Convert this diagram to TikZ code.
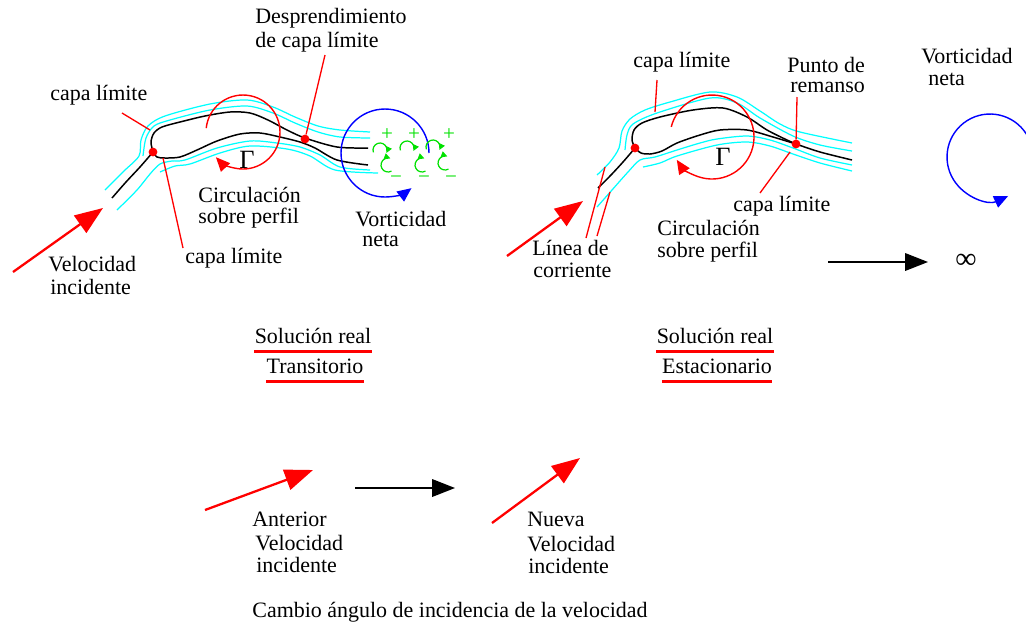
\documentclass[tikz,border=0pt]{standalone}
\usepackage{fontspec}
\setmainfont{Liberation Serif}
\usetikzlibrary{arrows.meta}
\definecolor{layercyan}{RGB}{0,255,255}
\definecolor{vortgreen}{RGB}{0,225,0}
\begin{document}
\begin{tikzpicture}[x=0.02cm,y=-0.02cm,
  txt/.style={inner sep=0pt,anchor=west,text height=8pt,text depth=1.5pt,font=\fontsize{12.5}{14}\selectfont},
  ctxt/.style={inner sep=0pt,text height=8pt,text depth=1.5pt,font=\fontsize{12.5}{14}\selectfont},
  body/.style={draw=black,line width=0.85pt},
  layer/.style={draw=layercyan,line width=0.7pt},
  lead/.style={draw=red,line width=0.75pt},
  dot/.style={circle,fill=red,inner sep=0pt,minimum size=5pt},
  vel/.style={draw=red,line width=1.3pt,-{Triangle[length=16pt,width=12pt]}},
  push/.style={draw=black,line width=0.85pt,-{Triangle[length=13pt,width=10pt]}},
  circred/.style={draw=red,line width=0.8pt,-{Triangle[length=8pt,width=7pt]}},
  circblue/.style={draw=blue,line width=0.8pt,-{Triangle[length=8pt,width=7pt]}},
  eddy/.style={draw=vortgreen,line width=0.7pt,-{Triangle[length=3.5pt,width=3.5pt]}},
  sign/.style={inner sep=0pt,text=vortgreen,font=\fontsize{12}{12}\selectfont},
  uline/.style={draw=red,line width=1.7pt},
  gam/.style={inner sep=0pt,font=\fontsize{15}{15}\selectfont}
]
\useasboundingbox (0,0) rectangle (1026,630);

% ================= transient flow (left) =================
% boundary-layer edges
\draw[layer] plot[smooth] coordinates {(105,190) (124,171) (139,156) (141,140) (148,126) (165,116) (210,104) (247,100) (273,107) (295,117) (318,126) (340,130) (370,132)};
\draw[layer] plot[smooth] coordinates {(143,156) (146,138) (154,126) (170,120) (210,110) (247,106) (273,113) (295,123) (318,132) (340,137) (370,138)};
\draw[layer] plot[smooth] coordinates {(117,210) (137,190) (150,174) (160,164) (172,161) (185,160) (217,148) (250,141) (277,143) (300,147) (320,155) (340,167) (370,170)};
\draw[layer] plot[smooth] coordinates {(160,172) (175,166) (190,164) (220,153) (250,146) (287,149) (310,156) (335,170) (378,173)};
% profile and stagnation streamline
\draw[body] plot[smooth] coordinates {(112,198) (126,182) (140,167) (153,152)};
\draw[body] plot[smooth] coordinates {(153,152) (151,142) (154,133) (162,127) (180,122) (205,116) (230,112) (250,113) (268,120) (287,130) (305,138) (337,147) (368,148)};
\draw[body] plot[smooth] coordinates {(153,152) (157,157) (165,158) (180,157) (197,150) (217,141) (240,134) (260,133) (280,137) (300,142) (315,148) (337,160) (368,165)};

% circulation around the profile
\coordinate (gcL) at (243,132);
\draw[circred] ([shift={(174:0.74cm)}]gcL) arc[start angle=174,end angle=-137,radius=0.74cm];
\node[gam] (gamL) at (247,160) {Γ};

% shed vorticity
\coordinate (vcL) at (385,153);
\draw[circblue] ([shift={(0:0.88cm)}]vcL) arc[start angle=0,end angle=307,radius=0.88cm];
\foreach \x/\y in {380/150,407/148,433/147}
  \draw[eddy] ([shift={(200:0.14cm)}]\x,\y) arc[start angle=200,end angle=-25,radius=0.14cm];
\foreach \x/\y in {388/165,422/165,445/163}
  \draw[eddy] ([shift={(-60:0.14cm)}]\x,\y) arc[start angle=-60,end angle=-290,radius=0.14cm];
\node[sign] (pa) at (387,135) {+};
\node[sign] (pb) at (414,135) {+};
\node[sign] (pc) at (449,135) {+};
\node[sign] (ma) at (396,180) {−};
\node[sign] (mb) at (424,180) {−};
\node[sign] (mc) at (451,180) {−};

% marked points and leaders
\node[dot] (stagL) at (153,152) {};
\node[dot] (sepL) at (305,139) {};
\coordinate (leadLa) at (122,113);
\coordinate (edgeLa) at (150,130);
\coordinate (leadLb) at (163,158);
\coordinate (endLb) at (183,248);
\coordinate (endSep) at (325,55);
\draw[lead] (leadLa) -- (edgeLa);
\draw[lead] (leadLb) -- (endLb);
\draw[lead] (sepL) -- (endSep);

% incoming velocity
\coordinate (vL0) at (13,272);
\coordinate (vL1) at (103,208);
\draw[vel] (vL0) -- (vL1);

% labels
\node[txt] (capaLa) at (50,95) {capa límite};
\node[txt] (despA) at (255,18) {Desprendimiento};
\node[txt] (despB) at (255,42) {de capa límite};
\node[txt] (circLa) at (198,197) {Circulación};
\node[txt] (circLb) at (198,218) {sobre perfil};
\node[txt] (vortLa) at (355,221) {Vorticidad};
\node[txt] (vortLb) at (362,241) {neta};
\node[txt] (velLa) at (48,266) {Velocidad};
\node[txt] (velLb) at (50,289) {incidente};
\node[txt] (capaLb) at (185,258) {capa límite};

% ================= steady flow (right) =================
\draw[layer] plot[smooth] coordinates {(597,175) (610,162) (619,148) (622,131) (630,119) (645,110) (670,102) (710,92) (737,97) (760,111) (780,124) (800,132) (852,143)};
\draw[layer] plot[smooth] coordinates {(625,150) (627,135) (633,124) (657,113) (710,98) (737,103) (760,118) (793,136) (820,145) (852,151)};
\draw[layer] plot[smooth] coordinates {(597,207) (612,190) (628,172) (640,160) (655,157) (677,150) (700,143) (717,139) (747,136) (770,140) (793,148) (820,158) (852,165)};
\draw[layer] plot[smooth] coordinates {(643,167) (660,163) (677,156) (717,145) (747,142) (770,146) (793,154) (820,163) (852,171)};
\draw[body] plot[smooth] coordinates {(598,188) (611,175) (623,162) (635,148)};
\draw[body] plot[smooth] coordinates {(635,148) (632,140) (634,130) (642,123) (660,117) (693,110) (723,108) (747,117) (767,130) (787,140) (796,144)};
\draw[body] plot[smooth] coordinates {(635,148) (641,153) (650,154) (662,151) (677,143) (700,135) (720,130) (747,130) (773,137) (796,144)};
\draw[body] plot[smooth] coordinates {(796,144) (820,152) (852,160)};

\coordinate (gcR) at (712,137);
\draw[circred] ([shift={(166:0.84cm)}]gcR) arc[start angle=166,end angle=-147,radius=0.84cm];
\node[gam] (gamR) at (723,157) {Γ};

\node[dot] (stagR) at (635,148) {};
\node[dot] (remR) at (796,144) {};
\coordinate (leadRa) at (657,80);
\coordinate (edgeRa) at (655,112);
\coordinate (leadRp) at (797,97);
\coordinate (leadRc) at (760,193);
\coordinate (edgeRc) at (790,152);
\coordinate (strA) at (605,167);
\coordinate (strAe) at (586,238);
\coordinate (strB) at (610,192);
\coordinate (strBe) at (597,236);
\draw[lead] (leadRa) -- (edgeRa);
\draw[lead] (leadRp) -- (remR);
\draw[lead] (leadRc) -- (edgeRc);
\draw[lead] (strA) -- (strAe);
\draw[lead] (strB) -- (strBe);

\coordinate (vR0) at (507,256);
\coordinate (vR1) at (583,201);
\draw[vel] (vR0) -- (vR1);

% vortex left behind, far downstream
\coordinate (vcR) at (990,157);
\draw[circblue] ([shift={(32:0.86cm)}]vcR) arc[start angle=32,end angle=295,radius=0.86cm];
\coordinate (farA) at (828,262);
\coordinate (farB) at (928,262);
\draw[push] (farA) -- (farB);
\node[inner sep=0pt,font=\fontsize{17}{17}\selectfont] (inf) at (966,261) {∞};

\node[txt] (capaRa) at (633,62) {capa límite};
\node[txt] (puntoA) at (787,67) {Punto de};
\node[txt] (puntoB) at (790,87) {remanso};
\node[txt] (vortRa) at (921,58) {Vorticidad};
\node[txt] (vortRb) at (928,80) {neta};
\node[txt] (capaRb) at (733,206) {capa límite};
\node[txt] (circRa) at (657,230) {Circulación};
\node[txt] (circRb) at (657,252) {sobre perfil};
\node[txt] (lineaA) at (532,250) {Línea de};
\node[txt] (lineaB) at (533,272) {corriente};

% ================= titles =================
\node[ctxt] (solA) at (313,338) {Solución real};
\node[ctxt] (tran) at (315,368) {Transitorio};
\node[ctxt] (solB) at (715,338) {Solución real};
\node[ctxt] (esta) at (717,368) {Estacionario};
\foreach \n in {solA,tran,solB,esta}
  \draw[uline] ([yshift=-2.5pt]\n.south west) -- ([yshift=-2.5pt]\n.south east);

% ================= change of incidence =================
\coordinate (oldA) at (205,510);
\coordinate (oldB) at (313,470);
\coordinate (chA) at (355,488);
\coordinate (chB) at (455,488);
\coordinate (newA) at (492,523);
\coordinate (newB) at (580,458);
\draw[vel] (oldA) -- (oldB);
\draw[push] (chA) -- (chB);
\draw[vel] (newA) -- (newB);
\node[txt] (antA) at (252,521) {Anterior};
\node[txt] (antB) at (255,545) {Velocidad};
\node[txt] (antC) at (256,567) {incidente};
\node[txt] (nueA) at (527,521) {Nueva};
\node[txt] (nueB) at (527,546) {Velocidad};
\node[txt] (nueC) at (528,568) {incidente};
\node[txt] (cambio) at (252,612) {Cambio ángulo de incidencia de la velocidad};
\end{tikzpicture}
\end{document}
